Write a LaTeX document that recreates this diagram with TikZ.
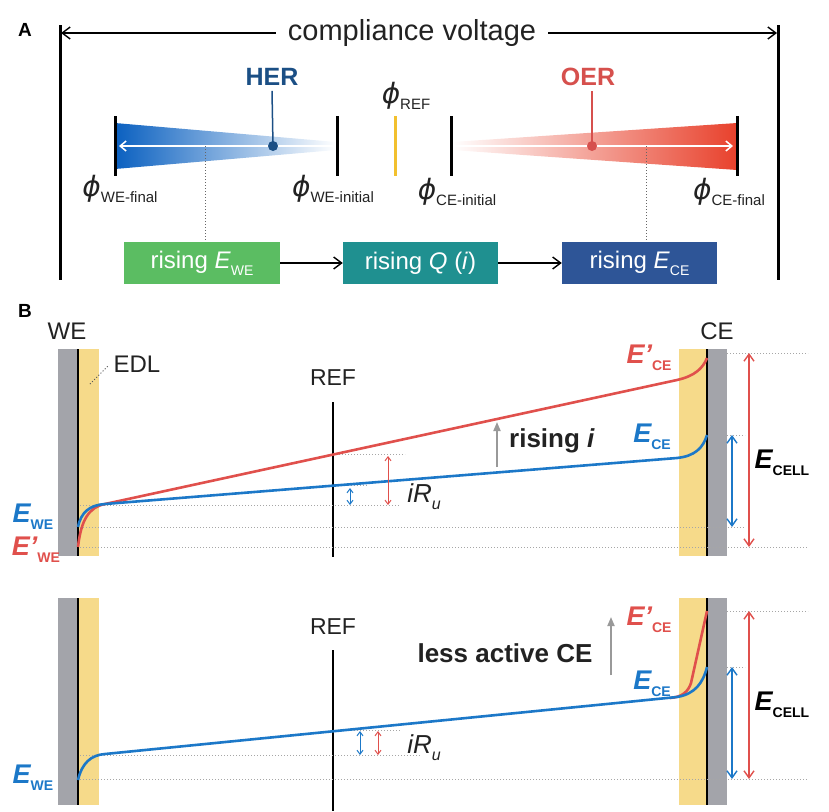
\documentclass[tikz,border=0pt]{standalone}
\usepackage{fontspec}
\setmainfont{Liberation Sans}
\newfontfamily\dvsans{DejaVu Sans}
\usetikzlibrary{arrows.meta}
\definecolor{herblue}{HTML}{1B4F85}
\definecolor{oerred}{HTML}{D6504D}
\definecolor{wblue}{HTML}{0A60C0}
\definecolor{wred}{HTML}{E8412C}
\definecolor{gbox}{HTML}{5BBD62}
\definecolor{tbox}{HTML}{1F9090}
\definecolor{bbox}{HTML}{2E5597}
\definecolor{cblue}{HTML}{1C78C8}
\definecolor{cred}{HTML}{E0504C}
\definecolor{egray}{HTML}{A3A4AA}
\definecolor{eyel}{HTML}{F6DA8A}
\definecolor{refyel}{HTML}{F2C02E}
\definecolor{txtc}{HTML}{222222}
\newcommand\fs[1]{\fontsize{#1}{#1}\selectfont}
\newcommand\phisub[1]{{\fs{28}\dvsans\itshape ϕ}\raisebox{-0.5ex}{\fs{15}#1}}
\newcommand\Elab[2]{{\fs{27}\bfseries\itshape E#1}\raisebox{-0.55ex}{\fs{14}\bfseries #2}}
\tikzset{
  txt/.style={inner sep=0pt, font=\fs{24}, text=txtc},
  bar/.style={line width=3pt},
  boxst/.style={minimum width=156pt, minimum height=42pt, inner sep=0pt, text=white, font=\fs{24}},
  dotl/.style={gray!70, dotted, line width=1pt},
  curve/.style={line width=2.6pt},
  dbl/.style={line width=1pt, {Straight Barb[length=4pt,width=6pt]}-{Straight Barb[length=4pt,width=6pt]}},
  bigdbl/.style={line width=1.4pt, {Straight Barb[length=7pt,width=10pt]}-{Straight Barb[length=7pt,width=10pt]}},
  grayarr/.style={gray!80, line width=1.8pt, -{Triangle[length=9pt,width=7pt]}},
  barb/.style={-{Straight Barb[length=8pt,width=12pt]}}
}
\begin{document}
\begin{tikzpicture}[x=1pt,y=-1pt]
\useasboundingbox (0,0) rectangle (829,811);
% ---------------- Panel A ----------------
\node[txt, font=\fs{19}\bfseries, text=black] (lA) at (25,30) {A};
\draw[line width=3pt] (60,25) -- (60,280);
\draw[line width=3pt] (778,25) -- (778,280);
\coordinate (cvl) at (61,33);
\coordinate (cvr) at (777,33);
\node[txt, font=\fs{29}] (cv) at (412,33) {compliance voltage};
\draw[line width=1.4pt, barb] ([xshift=-12pt]cv.west) -- (cvl);
\draw[line width=1.4pt, barb] ([xshift=12pt]cv.east) -- (cvr);
% wedges
\shade[left color=wblue, right color=white] (115,123) -- (336,142) -- (336,150) -- (115,169) -- cycle;
\shade[left color=white, right color=wred] (452,142) -- (737,123) -- (737,170) -- (452,150) -- cycle;
\coordinate (wa1) at (333,146);
\coordinate (wa2) at (119,146);
\coordinate (ra1) at (455,146);
\coordinate (ra2) at (733,146);
\draw[white, line width=1.5pt, -{Straight Barb[length=6pt,width=10pt]}] (wa1) -- (wa2);
\draw[white, line width=1.5pt, -{Straight Barb[length=6pt,width=10pt]}] (ra1) -- (ra2);
\draw[bar] (115,116) -- (115,176);
\draw[bar] (337,116) -- (337,176);
\draw[bar] (451,116) -- (451,176);
\draw[bar] (737,116) -- (737,176);
\draw[refyel, bar] (395,116) -- (395,176);
% HER / OER
\node[txt, font=\fs{25}\bfseries, text=herblue] (her) at (272,77) {HER};
\coordinate (herd) at (273,146);
\draw[herblue, line width=1.5pt] (her.south) ++(0,5) -- (herd);
\fill[herblue] (herd) circle (5pt);
\node[txt, font=\fs{25}\bfseries, text=oerred] (oer) at (588,77) {OER};
\coordinate (oerd) at (592,146);
\draw[oerred, line width=1.5pt] (oer.south) ++(4,5) -- (oerd);
\fill[oerred] (oerd) circle (5pt);
% phi labels
\node[txt] (pwf) at (120,189) {\phisub{WE-final}};
\node[txt] (pwi) at (333,189) {\phisub{WE-initial}};
\node[txt] (pref) at (406,96) {\phisub{REF}};
\node[txt] (pci) at (457,192) {\phisub{CE-initial}};
\node[txt] (pcf) at (729,192) {\phisub{CE-final}};
% boxes
\node[boxst, fill=gbox] (g) at (202,263) {rising \textit{E}\raisebox{-0.55ex}{\fs{14}WE}};
\node[boxst, fill=tbox, minimum width=155pt] (t) at (420.5,263) {rising \textit{Q} (\textit{i})};
\node[boxst, fill=bbox, minimum width=155pt] (b) at (639.5,263) {rising \textit{E}\raisebox{-0.55ex}{\fs{14}CE}};
\draw[line width=1.4pt, barb] (g) -- (t);
\draw[line width=1.4pt, barb] (t) -- (b);
\draw[gray!80!black, dotted, line width=1pt] (205,146) -- (g.north -| 205,0);
\draw[gray!80!black, dotted, line width=1pt] (646,146) -- (b.north -| 646,0);
% ---------------- Panel B (top) ----------------
\node[txt, font=\fs{19}\bfseries, text=black] (lB) at (25,311) {B};
\fill[egray] (58,349) rectangle (78,556);
\fill[eyel] (78,349) rectangle (99,556);
\draw[line width=2pt] (78,349) -- (78,556);
\fill[eyel] (679,349) rectangle (707,556);
\fill[egray] (707,349) rectangle (727,556);
\draw[line width=2pt] (707,349) -- (707,556);
\node[txt] (we) at (67,331) {WE};
\node[txt] (ce) at (717,331) {CE};
\node[txt, font=\fs{24}] (edl) at (137,364) {EDL};
\coordinate (edlp) at (90,384);
\draw[gray!70!black, dotted, line width=1pt] (edlp) -- (108,366);
\node[txt, font=\fs{23}] (ref1) at (333,378) {REF};
\draw[line width=1.3pt] (333,402) -- (333,557);
% dotted levels
\draw[dotl] (80,505) -- (400,505);
\draw[dotl] (80,527) -- (745,527);
\draw[dotl] (80,547) -- (808,547);
\draw[dotl] (333,454) -- (405,454);
\draw[dotl] (333,485) -- (367,485);
\draw[dotl] (727,353) -- (808,353);
\draw[dotl] (727,435) -- (745,435);
% curves
\draw[cred, curve] (78,547) .. controls (81,520) and (89,507) .. (105,504) -- (677,380) .. controls (695,376) and (703,368) .. (707,358);
\draw[cblue, curve] (78,527) .. controls (81,512) and (90,505) .. (105,504) -- (677,458) .. controls (695,456) and (703,448) .. (707,435);
% iRu arrows
\draw[cblue, dbl] (350,488) -- (350,505);
\draw[cred, dbl] (388,456) -- (388,505);
\node[txt, font=\fs{26}] (iru1) at (424,497) {\textit{iR}\raisebox{-0.5ex}{\fs{16}\itshape u}};
% rising i
\coordinate (ri1) at (497,467);
\coordinate (ri2) at (497,422);
\draw[grayarr] (ri1) -- (ri2);
\node[txt, font=\fs{26}\bfseries] (risi) at (552,441) {rising \textit{i}};
% labels
\node[txt, text=cblue] (ewe1) at (33,517) {\Elab{}{WE}};
\node[txt, text=cred] (ewep1) at (36,550) {\Elab{’}{WE}};
\node[txt, text=cred] (ecep1) at (649,358) {\Elab{’}{CE}};
\node[txt, text=cblue] (ece1) at (652,437) {\Elab{}{CE}};
\node[txt, text=black] (ecell1) at (782,463) {\Elab{}{CELL}};
\draw[cblue, bigdbl] (732,435) -- (732,527);
\draw[cred, bigdbl] (749,353) -- (749,547);
% ---------------- Panel B (bottom) ----------------
\fill[egray] (58,598) rectangle (78,805);
\fill[eyel] (78,598) rectangle (99,805);
\draw[line width=2pt] (78,598) -- (78,805);
\fill[eyel] (679,598) rectangle (707,805);
\fill[egray] (707,598) rectangle (727,805);
\draw[line width=2pt] (707,598) -- (707,805);
\node[txt, font=\fs{23}] (ref2) at (333,627) {REF};
\draw[line width=1.3pt] (333,650) -- (333,811);
\draw[dotl] (80,755) -- (420,755);
\draw[dotl] (80,779) -- (808,779);
\draw[dotl] (333,730) -- (400,730);
\draw[dotl] (727,611) -- (808,611);
\draw[dotl] (727,667) -- (745,667);
\draw[cred, curve] (670,698) .. controls (682,697) and (688,692) .. (691,683) -- (707,611);
\draw[cblue, curve] (78,780) .. controls (82,763) and (91,755) .. (105,754) -- (677,697) .. controls (695,694) and (703,683) .. (707,667);
\draw[cblue, dbl] (360,731) -- (360,755);
\draw[cred, dbl] (378,731) -- (378,755);
\node[txt, font=\fs{26}] (iru2) at (424,748) {\textit{iR}\raisebox{-0.5ex}{\fs{16}\itshape u}};
\coordinate (la1) at (611,675);
\coordinate (la2) at (611,617);
\draw[grayarr] (la1) -- (la2);
\node[txt, font=\fs{26}\bfseries] (lac) at (505,653) {less active CE};
\node[txt, text=cred] (ecep2) at (649,620) {\Elab{’}{CE}};
\node[txt, text=cblue] (ece2) at (652,684) {\Elab{}{CE}};
\node[txt, text=black] (ecell2) at (782,705) {\Elab{}{CELL}};
\node[txt, text=cblue] (ewe2) at (33,778) {\Elab{}{WE}};
\draw[cblue, bigdbl] (732,667) -- (732,779);
\draw[cred, bigdbl] (749,611) -- (749,779);
\end{tikzpicture}
\end{document}
